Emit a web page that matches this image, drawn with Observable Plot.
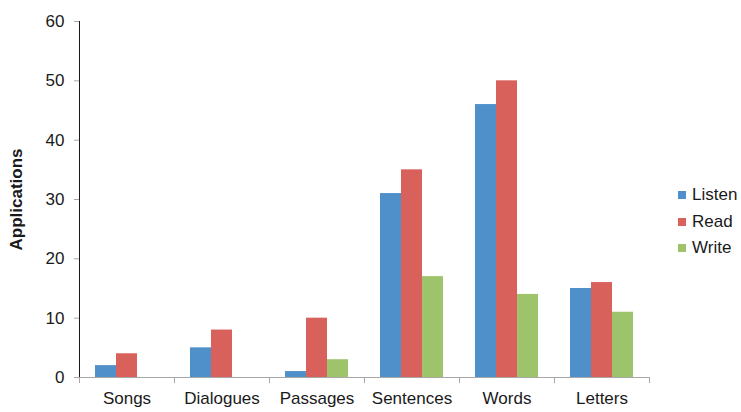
<!DOCTYPE html>
<html>
<head>
<meta charset="utf-8">
<script src="https://cdn.jsdelivr.net/npm/d3@7"></script>
<script src="https://cdn.jsdelivr.net/npm/@observablehq/plot@0.6"></script>
<style>
  html, body { margin: 0; padding: 0; background: #fff; }
  #wrap { position: relative; width: 741px; height: 412px; font-family: "Liberation Sans", Arial, sans-serif; color: #1a1a1a; }
  #legend { position: absolute; left: 678px; top: 182px; font-size: 17px; }
  #legend .item { display: flex; align-items: center; height: 26.5px; }
  #legend .sw { width: 8px; height: 8px; margin-right: 6px; }
</style>
</head>
<body>
<div id="wrap">
  <div id="chart"></div>
  <div id="legend"></div>
</div>
<script>
const categories = ["Songs", "Dialogues", "Passages", "Sentences", "Words", "Letters"];
const seriesNames = ["Listen", "Read", "Write"];
const listen = [2, 5, 1, 31, 46, 15];
const read = [4, 8, 10, 35, 50, 16];
const write = [0, 0, 3, 17, 14, 11];
const colors = ["#4f8fca", "#d9615c", "#9ec46b"];
const yTicks = [0, 10, 20, 30, 40, 50, 60];
const yLabel = "Applications";

const valuesBySeries = [listen, read, write];
const data = [];
categories.forEach((c, i) => {
  seriesNames.forEach((s, j) => {
    data.push({category: c, series: s, value: valuesBySeries[j][i]});
  });
});

const chart = Plot.plot({
  width: 665,
  height: 412,
  marginTop: 21,
  marginBottom: 35,
  marginLeft: 77,
  marginRight: 15,
  style: {fontFamily: "Liberation Sans, Arial, sans-serif", fontSize: "17px", color: "#1a1a1a", background: "#fff"},
  fx: {domain: categories, padding: 0, axis: "bottom", label: null, tickSize: 0, tickPadding: 14},
  x: {domain: seriesNames, axis: null, paddingInner: 0, paddingOuter: 0.76},
  y: {domain: [0, 60], ticks: yTicks, tickSize: 5, tickPadding: 10, line: true,
      label: yLabel, labelArrow: "none", labelAnchor: "center", labelOffset: 70},
  color: {domain: seriesNames, range: colors},
  marks: [
    Plot.barY(data, {fx: "category", x: "series", y: "value", fill: "series"}),
    Plot.ruleY([0], {stroke: "#a8a8a8"}),
    Plot.frame({anchor: "left", stroke: "#a8a8a8", insetTop: 356, insetBottom: -5}),
    Plot.frame({anchor: "right", stroke: "#a8a8a8", insetTop: 356, insetBottom: -5})
  ]
});
document.getElementById("chart").appendChild(chart);

const svg = d3.select(chart);
svg.selectAll('[aria-label="y-axis label"] text, [aria-label="y-axis label"]').style("font-weight", "bold");
svg.selectAll('[aria-label="y-axis label"] text').text(yLabel);
svg.selectAll('[aria-label="y-axis tick"], [aria-label="y-axis line"]').attr("stroke", "#a8a8a8");
svg.selectAll('[aria-label="y-axis tick"] path, [aria-label="y-axis line"] line').attr("stroke", "#a8a8a8");

const legend = d3.select("#legend");
seriesNames.forEach((s, i) => {
  const item = legend.append("div").attr("class", "item");
  item.append("div").attr("class", "sw").style("background", colors[i]);
  item.append("span").text(s);
});
</script>
</body>
</html>
